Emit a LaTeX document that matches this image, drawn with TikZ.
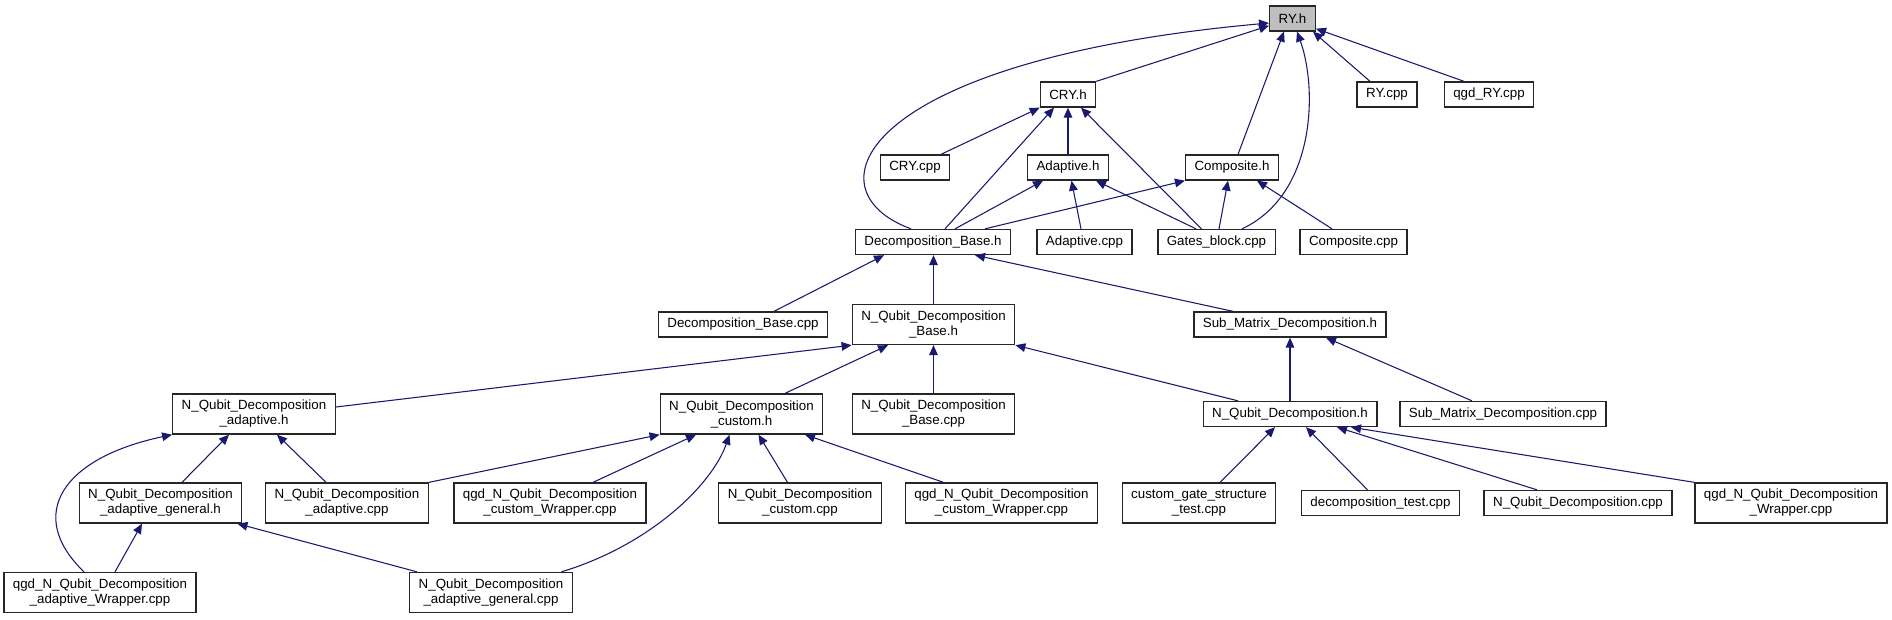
\documentclass[tikz,border=0pt]{standalone}
\usepackage{fontspec}
\setmainfont{Liberation Sans}
\usetikzlibrary{arrows.meta,calc}
\definecolor{edgeblue}{RGB}{25,25,112}
\definecolor{focusgray}{RGB}{191,191,191}
\tikzset{
  file/.style={draw=black!85, line width=1pt, fill=white, inner xsep=6.75pt, inner ysep=0pt,
    minimum height=18.75pt, align=center, font=\fontsize{10}{11.25}\selectfont},
  file2/.style={file, minimum height=30pt},
  dep/.style={draw=edgeblue, line width=0.8pt, -{Triangle[length=7.5pt,width=6.5pt]}},
}

\begin{document}
\begin{tikzpicture}[x=0.75pt,y=-0.75pt]
      % Frame of the whole graph (pixels of the original)
      \useasboundingbox (0,0) rectangle (1892,619);

      % Top row: the header itself
      \node[file, fill=focusgray] (RYh) at (1292.5,18.5) {RY.h};

      % Second row
      \node[file] (CRYh) at (1068,94.5) {CRY.h};
      \node[file] (RYcpp) at (1387,94.5) {RY.cpp};
      \node[file] (qgdRYcpp) at (1489,94.5) {qgd\_RY.cpp};

      % Third row
      \node[file] (CRYcpp) at (915,167.5) {CRY.cpp};
      \node[file] (Adaph) at (1068,167.5) {Adaptive.h};
      \node[file] (Comph) at (1232,167.5) {Composite.h};

      % Fourth row
      \node[file] (DBh) at (933,242) {Decomposition\_Base.h};
      \node[file] (Adapcpp) at (1084.5,242) {Adaptive.cpp};
      \node[file] (Gatescpp) at (1216.5,242) {Gates\_block.cpp};
      \node[file] (Compcpp) at (1353.5,242) {Composite.cpp};

      % Fifth row
      \node[file] (DBcpp) at (743,324.5) {Decomposition\_Base.cpp};
      \node[file2] (NQDBh) at (933.5,324.5) {N\_Qubit\_Decomposition\\\_Base.h};
      \node[file] (SMDh) at (1290,324.5) {Sub\_Matrix\_Decomposition.h};

      % Sixth row
      \node[file2] (NQDAh) at (254,414) {N\_Qubit\_Decomposition\\\_adaptive.h};
      \node[file2] (NQDCh) at (741.5,414) {N\_Qubit\_Decomposition\\\_custom.h};
      \node[file2] (NQDBcpp) at (933.5,414) {N\_Qubit\_Decomposition\\\_Base.cpp};
      \node[file] (NQDh) at (1290,414) {N\_Qubit\_Decomposition.h};
      \node[file] (SMDcpp) at (1503,414) {Sub\_Matrix\_Decomposition.cpp};

      % Seventh row
      \node[file2] (NQDAGh) at (160.5,503) {N\_Qubit\_Decomposition\\\_adaptive\_general.h};
      \node[file2] (NQDAcpp) at (347,503) {N\_Qubit\_Decomposition\\\_adaptive.cpp};
      \node[file2] (qgdCWa) at (550,503) {qgd\_N\_Qubit\_Decomposition\\\_custom\_Wrapper.cpp};
      \node[file2] (NQDCcpp) at (800,503) {N\_Qubit\_Decomposition\\\_custom.cpp};
      \node[file2] (qgdCWb) at (1001.5,503) {qgd\_N\_Qubit\_Decomposition\\\_custom\_Wrapper.cpp};
      \node[file2] (cgstcpp) at (1199,503) {custom\_gate\_structure\\\_test.cpp};
      \node[file] (dtestcpp) at (1380.5,503) {decomposition\_test.cpp};
      \node[file] (NQDcpp) at (1578,503) {N\_Qubit\_Decomposition.cpp};
      \node[file2] (qgdNQDcpp) at (1791,503) {qgd\_N\_Qubit\_Decomposition\\\_Wrapper.cpp};

      % Bottom row
      \node[file2] (qgdAWcpp) at (100,592.5) {qgd\_N\_Qubit\_Decomposition\\\_adaptive\_Wrapper.cpp};
      \node[file2] (NQDAGcpp) at (491,592.5) {N\_Qubit\_Decomposition\\\_adaptive\_general.cpp};

      % Into RY.h
      \draw[dep] ($(DBh.north)+(-22,0)$) .. controls (805,190) and (860,60) .. ($(RYh.west)+(0,4.5)$);
      \draw[dep] (CRYh.north east) -- ($(RYh.south west)+(0,-6)$);
      \draw[dep] ($(Comph.north)+(6,0)$) -- ($(RYh.south)+(-8.5,0)$);
      \draw[dep] ($(Gatescpp.north)+(25.5,0)$) .. controls (1315,195) and (1318,90) .. ($(RYh.south)+(4.5,0)$);
      \draw[dep] ($(RYcpp.north)+(-17,0)$) -- ($(RYh.south)+(20.5,0)$);
      \draw[dep] ($(qgdRYcpp.north)+(-25,0)$) -- ($(RYh.south east)+(0,-3)$);

      % Into CRY.h
      \draw[dep] ($(CRYcpp.north)+(26,0)$) -- (CRYh.south west);
      \draw[dep] ($(DBh.north)+(12,0)$) -- ($(CRYh.south)+(-14,0)$);
      \draw[dep] (Adaph.north) -- (CRYh.south);
      \draw[dep] ($(Gatescpp.north)+(-15,0)$) -- ($(CRYh.south)+(13,0)$);

      % Into Adaptive.h
      \draw[dep] ($(DBh.north)+(22,0)$) -- ($(Adaph.south)+(-25,0)$);
      \draw[dep] ($(Adapcpp.north)+(-3.5,0)$) -- ($(Adaph.south)+(3.5,0)$);
      \draw[dep] ($(Gatescpp.north)+(-20.5,0)$) -- ($(Adaph.south)+(28,0)$);

      % Into Composite.h
      \draw[dep] ($(DBh.north)+(52,0)$) -- (Comph.south west);
      \draw[dep] ($(Gatescpp.north)+(2.5,0)$) -- ($(Comph.south)+(-4,0)$);
      \draw[dep] ($(Compcpp.north)+(-21.5,0)$) -- ($(Comph.south)+(25,0)$);

      % Into Decomposition_Base.h
      \draw[dep] ($(DBcpp.north)+(31,0)$) -- ($(DBh.south)+(-49,0)$);
      \draw[dep] (NQDBh.north) -- (NQDBh.north |- DBh.south);
      \draw[dep] ($(SMDh.north)+(-57,0)$) -- ($(DBh.south)+(42,0)$);

      % Into N_Qubit_Decomposition_Base.h
      \draw[dep] ($(NQDAh.east)+(0,-7)$) -- (NQDBh.south west);
      \draw[dep] ($(NQDCh.north)+(43.5,0)$) -- ($(NQDBh.south)+(-45.5,0)$);
      \draw[dep] (NQDBcpp.north) -- (NQDBh.south);
      \draw[dep] ($(NQDh.north)+(-52,0)$) -- (NQDBh.south east);

      % Into Sub_Matrix_Decomposition.h
      \draw[dep] (NQDh.north) -- (SMDh.south);
      \draw[dep] ($(SMDcpp.north)+(-31,0)$) -- ($(SMDh.south)+(36,0)$);

      % Into N_Qubit_Decomposition_adaptive.h
      \draw[dep] ($(qgdAWcpp.north)+(-16,0)$) .. controls (25,515) and (62,458) .. (NQDAh.south west);
      \draw[dep] ($(NQDAGh.north)+(21.5,0)$) -- ($(NQDAh.south)+(-25,0)$);
      \draw[dep] ($(NQDAcpp.north)+(-21,0)$) -- ($(NQDAh.south)+(23,0)$);

      % Into N_Qubit_Decomposition_custom.h
      \draw[dep] (NQDAcpp.north east) -- (NQDCh.south west);
      \draw[dep] ($(qgdCWa.north)+(43,0)$) -- ($(NQDCh.south)+(-45.5,0)$);
      \draw[dep] ($(NQDAGcpp.north)+(70.5,0)$) .. controls (650,545) and (712,485) .. ($(NQDCh.south)+(-12,0)$);
      \draw[dep] ($(NQDCcpp.north)+(-12.5,0)$) -- ($(NQDCh.south)+(17,0)$);
      \draw[dep] ($(qgdCWb.north)+(-58,0)$) -- ($(NQDCh.south)+(63.5,0)$);

      % Into N_Qubit_Decomposition_adaptive_general.h
      \draw[dep] ($(qgdAWcpp.north)+(15,0)$) -- ($(NQDAGh.south)+(-18.5,0)$);
      \draw[dep] ($(NQDAGcpp.north)+(-74,0)$) -- ($(NQDAGh.south east)+(-5,0)$);

      % Into N_Qubit_Decomposition.h
      \draw[dep] ($(cgstcpp.north)+(21,0)$) -- ($(NQDh.south)+(-15,0)$);
      \draw[dep] ($(dtestcpp.north)+(-13,0)$) -- ($(NQDh.south)+(16,0)$);
      \draw[dep] ($(NQDcpp.north)+(-41,0)$) -- ($(NQDh.south)+(47,0)$);
      \draw[dep] (qgdNQDcpp.north west) -- ($(NQDh.south)+(61,0)$);
\end{tikzpicture}
\end{document}
